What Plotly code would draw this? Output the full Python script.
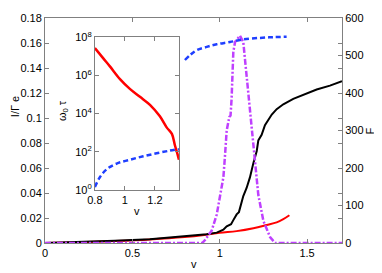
import plotly.graph_objects as go

# ---- main panel data ----
v_black = [0, 0.2, 0.4, 0.6, 0.716, 0.83, 0.925, 0.983, 1.021, 1.040, 1.065, 1.078, 1.097, 1.110,
           1.122, 1.135, 1.154, 1.173, 1.193, 1.212, 1.221, 1.240, 1.259, 1.278, 1.298, 1.326,
           1.364, 1.421, 1.479, 1.555, 1.631, 1.70]
i_black = [0, 0.0008, 0.0018, 0.0031, 0.0044, 0.0056, 0.0070, 0.0083, 0.0106, 0.0134, 0.0150,
           0.0183, 0.0229, 0.0247, 0.0307, 0.0376, 0.0440, 0.0525, 0.0641, 0.0736, 0.0821,
           0.0865, 0.0943, 0.0989, 0.1028, 0.1071, 0.1110, 0.1153, 0.1187, 0.1228, 0.1259, 0.1294]

v_red = [0, 0.2, 0.4, 0.6, 0.8, 0.9, 1.0, 1.097, 1.193, 1.269, 1.326, 1.364, 1.399]
i_red = [0, 0.0007, 0.0016, 0.0029, 0.0048, 0.0062, 0.0082, 0.0095, 0.0118, 0.0144, 0.0165,
         0.0191, 0.0222]

v_mag = [0, 0.90, 0.916, 0.954, 0.983, 1.011, 1.021, 1.030, 1.040, 1.055, 1.062, 1.068, 1.074,
         1.078, 1.088, 1.116, 1.135, 1.145, 1.164, 1.175, 1.202, 1.221, 1.250, 1.288, 1.317,
         1.45, 1.70]
f_mag = [0, 0, 8, 33, 76, 145, 175, 231, 300, 336, 340, 384, 446, 510, 536, 553, 536, 489, 402,
         343, 214, 128, 59, 16, 0, 0, 0]

v_blue = [0.801, 0.830, 0.868, 0.926, 0.983, 1.059, 1.135, 1.231, 1.307, 1.383]
f_blue = [488, 501, 514, 523, 530, 536, 543, 547, 549, 550]

# ---- inset data ----
v_in_blue = [0.8, 0.833, 0.878, 0.945, 1.033, 1.122, 1.211, 1.3, 1.36]
w_in_blue = [1.4, 4.6, 12, 24, 38, 58, 83, 115, 135]
v_in_red = [0.8, 0.856, 0.9, 0.967, 1.033, 1.1, 1.167, 1.233, 1.278, 1.313, 1.333, 1.349, 1.36]
w_in_red = [2.75e7, 7.9e6, 3.0e6, 6.5e5, 2.0e5, 7.6e4, 2.9e4, 7.2e3, 1.9e3, 870, 220, 83, 38]

left_ticks = [0, 0.02, 0.04, 0.06, 0.08, 0.1, 0.12, 0.14, 0.16, 0.18]
left_labels = ["0", "0.02", "0.04", "0.06", "0.08", "0.1", "0.12", "0.14", "0.16", "0.18"]
right_ticks = [0, 100, 200, 300, 400, 500, 600]
x_ticks = [0, 0.5, 1, 1.5]
x_labels = ["0", "0.5", "1", "1.5"]
in_x_ticks = [0.8, 1, 1.2]
in_x_labels = ["0.8", "1", "1.2"]
in_y_ticks = [1, 1e2, 1e4, 1e6, 1e8]
in_y_labels = ["10<sup>0</sup>", "10<sup>2</sup>", "10<sup>4</sup>", "10<sup>6</sup>", "10<sup>8</sup>"]

RED = "#ff0000"
BLUE = "#1f3fff"
MAG = "#bf40ff"
GRAY = "#808080"
FONT = dict(family="Liberation Sans, Arial, sans-serif", size=11, color="#000000")

fig = go.Figure()
fig.add_trace(go.Scatter(x=v_red, y=i_red, mode="lines",
                         line=dict(color=RED, width=2, shape="spline"),
                         xaxis="x", yaxis="y", showlegend=False))
fig.add_trace(go.Scatter(x=v_black, y=i_black, mode="lines", line=dict(color="#000000", width=2),
                         xaxis="x", yaxis="y", showlegend=False))
fig.add_trace(go.Scatter(x=v_mag, y=f_mag, mode="lines",
                         line=dict(color=MAG, width=2.5, dash="6px,2px,2px,2px"),
                         xaxis="x", yaxis="y2", showlegend=False))
fig.add_trace(go.Scatter(x=v_blue, y=f_blue, mode="lines",
                         line=dict(color=BLUE, width=2.5, dash="5px,3px", shape="spline"),
                         xaxis="x", yaxis="y2", showlegend=False))
fig.add_trace(go.Scatter(x=v_in_red, y=w_in_red, mode="lines",
                         line=dict(color=RED, width=2.5, shape="spline"),
                         xaxis="x3", yaxis="y3", showlegend=False))
fig.add_trace(go.Scatter(x=v_in_blue, y=w_in_blue, mode="lines",
                         line=dict(color=BLUE, width=2.5, dash="5px,3px", shape="spline"),
                         xaxis="x3", yaxis="y3", showlegend=False))

axis_common = dict(showgrid=False, zeroline=False, showline=True, linecolor=GRAY, linewidth=1,
                   ticks="inside", tickcolor=GRAY, ticklen=4, tickfont=FONT)

# The page body has an 8px margin, so the figure is made 8px smaller and shifted accordingly.
fig.update_layout(
    width=374, height=265,
    margin=dict(l=37, r=40, t=2, b=30),
    paper_bgcolor="white", plot_bgcolor="white",
    font=FONT,
    xaxis=dict(domain=[0, 1], range=[0, 1.7], tickvals=x_ticks, ticktext=x_labels,
               mirror="ticks", anchor="y", **axis_common),
    yaxis=dict(range=[0, 0.18], tickvals=left_ticks, ticktext=left_labels,
               mirror="ticks", anchor="x", **axis_common),
    yaxis2=dict(range=[0, 600], tickvals=right_ticks, overlaying="y", side="right",
                anchor="x", **axis_common),
    xaxis3=dict(domain=[0.168, 0.451], range=[0.8, 1.36], tickvals=in_x_ticks,
                ticktext=in_x_labels, mirror="ticks", anchor="y3", **axis_common),
    yaxis3=dict(domain=[0.236, 0.914], type="log", range=[0, 8], tickvals=in_y_ticks,
                ticktext=in_y_labels, mirror="ticks", anchor="x3", **axis_common),
)

fig.add_annotation(text="I/Γ e", xref="paper", yref="paper", x=-0.1, y=0.605, borderpad=0,
                   showarrow=False, textangle=-90, font=FONT, xanchor="center", yanchor="middle")
fig.add_annotation(text="F", xref="paper", yref="paper", x=1.094, y=0.5,
                   showarrow=False, textangle=-90, font=FONT, xanchor="center", yanchor="middle")
fig.add_annotation(text="v", xref="paper", yref="paper", x=0.5, y=-0.095,
                   showarrow=False, font=FONT, xanchor="center", yanchor="middle")
fig.add_annotation(text="ω<sub>0</sub> τ", xref="paper", yref="paper", x=0.06, y=0.59,
                   showarrow=False, textangle=-90, font=FONT, xanchor="center", yanchor="middle")
fig.add_annotation(text="v", xref="paper", yref="paper", x=0.31, y=0.142,
                   showarrow=False, font=FONT, xanchor="center", yanchor="middle")

fig.write_html("out.html")
